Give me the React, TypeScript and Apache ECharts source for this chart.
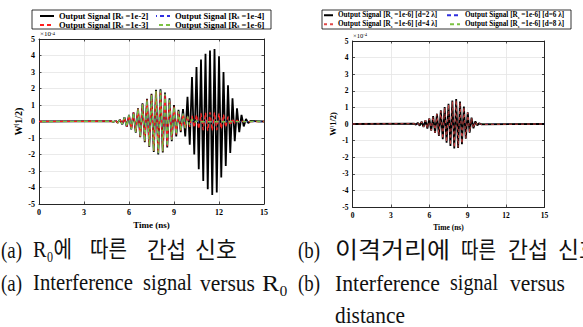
import React, { useEffect, useRef } from 'react';
import * as echarts from 'echarts';

// ---------- data (values in units of 1e-4) ----------
const TIME = [
  4.8, 4.95, 5.1, 5.25, 5.4, 5.55, 5.7, 5.85, 6.0, 6.15,
  6.3, 6.45, 6.6, 6.75, 6.9, 7.05, 7.2, 7.35, 7.5, 7.65,
  7.8, 7.95, 8.1, 8.25, 8.4, 8.55, 8.7, 8.85, 9.0, 9.15,
  9.3, 9.45, 9.6, 9.75, 9.9, 10.05, 10.2, 10.35, 10.5, 10.65,
  10.8, 10.95, 11.1, 11.25, 11.4, 11.55, 11.7, 11.85, 12.0, 12.15,
  12.3, 12.45, 12.6, 12.75, 12.9, 13.05, 13.2, 13.35, 13.5, 13.65,
  13.8, 13.95, 14.1,
];
const T_START = 0;
const T_END = 15;

// (a) Interference signal versus R0
const A_RS_1E2 = [
  0.02, -0.03, 0.05, -0.08, 0.12, -0.18, 0.25, -0.32, 0.40, -0.48,
  0.56, -0.68, 0.80, -0.95, 1.10, -1.25, 1.38, -1.55, 1.68, -1.85,
  1.92, -2.00, 1.96, -1.88, 1.75, -1.58, 1.40, -1.20, 1.00, -0.90,
  0.70, -0.65, 0.75, -0.90, 1.50, -1.40, 2.70, -2.00, 3.30, -2.90,
  3.75, -3.60, 4.10, -4.10, 4.30, -4.45, 4.40, -4.30, 3.95, -3.40,
  3.00, -2.70, 2.20, -1.90, 1.40, -1.20, 0.80, -0.65, 0.40, -0.30,
  0.15, -0.10, 0.03,
];
const A_RS_1E3 = [
  0.02, -0.03, 0.05, -0.08, 0.12, -0.17, 0.24, -0.31, 0.38, -0.46,
  0.54, -0.65, 0.77, -0.92, 1.06, -1.20, 1.33, -1.50, 1.62, -1.78,
  1.85, -1.92, 1.88, -1.80, 1.68, -1.50, 1.32, -1.10, 0.90, -0.78,
  0.62, -0.55, 0.48, -0.42, 0.36, -0.32, 0.34, -0.38, 0.42, -0.46,
  0.49, -0.52, 0.54, -0.56, 0.56, -0.57, 0.55, -0.53, 0.50, -0.46,
  0.42, -0.36, 0.30, -0.24, 0.18, -0.12, 0.08, -0.05, 0.02, -0.01,
];
const A_RS_1E4 = [
  0.02, -0.03, 0.05, -0.08, 0.12, -0.17, 0.24, -0.31, 0.38, -0.46,
  0.54, -0.65, 0.77, -0.92, 1.06, -1.20, 1.33, -1.50, 1.62, -1.78,
  1.85, -1.92, 1.88, -1.80, 1.68, -1.50, 1.32, -1.10, 0.90, -0.78,
  0.62, -0.55, 0.48, -0.40, 0.30, -0.22, 0.14, -0.08, 0.04, -0.02,
];
const A_RS_1E6 = [
  0.02, -0.03, 0.05, -0.08, 0.12, -0.17, 0.24, -0.31, 0.38, -0.46,
  0.54, -0.65, 0.77, -0.92, 1.06, -1.20, 1.33, -1.50, 1.62, -1.78,
  1.85, -1.92, 1.88, -1.80, 1.68, -1.50, 1.32, -1.10, 0.90, -0.78,
  0.62, -0.55, 0.48, -0.40, 0.30, -0.22, 0.14, -0.08, 0.04, -0.02,
];

// (b) Interference signal versus distance
const B_D2 = [
  0.02, -0.04, 0.07, -0.10, 0.14, -0.18, 0.23, -0.28, 0.34, -0.40,
  0.47, -0.54, 0.62, -0.72, 0.82, -0.92, 1.02, -1.12, 1.22, -1.32,
  1.42, -1.48, 1.50, -1.45, 1.35, -1.22, 1.05, -0.88, 0.70, -0.52,
  0.38, -0.26, 0.16, -0.09, 0.05, -0.02,
];
const B_D4 = [
  0.02, -0.04, 0.06, -0.09, 0.13, -0.17, 0.22, -0.27, 0.32, -0.38,
  0.45, -0.52, 0.60, -0.69, 0.79, -0.89, 0.98, -1.08, 1.18, -1.27,
  1.36, -1.42, 1.44, -1.40, 1.30, -1.18, 1.01, -0.85, 0.68, -0.50,
  0.36, -0.25, 0.15, -0.08, 0.04, -0.02,
];
const B_D6 = [0, 0];
const B_D8 = [0, 0];
const FLAT_TIME = [0, 15];

const X_TICKS = { min: 0, max: 15, interval: 3 };
const Y_TICKS = { min: -5, max: 5, interval: 1 };

const NAMES_A = [
  'Output Signal [Rs =1e-2]',
  'Output Signal [Rs =1e-3]',
  'Output Signal [Rs =1e-4]',
  'Output Signal [Rs =1e-6]',
];
const NAMES_B = [
  'Output Signal [Rs =1e-6] [d=2 λ]',
  'Output Signal [Rs =1e-6] [d=4 λ]',
  'Output Signal [Rs =1e-6] [d=6 λ]',
  'Output Signal [Rs =1e-6] [d=8 λ]',
];

const CAPTIONS = [
  { text: '(a)', x: 1, w: 21, y: 250 },
  { text: 'R₀에', x: 33, w: 39, y: 250 },
  { text: '따른', x: 90, w: 37, y: 250 },
  { text: '간섭', x: 147, w: 39, y: 250 },
  { text: '신호', x: 195, w: 42, y: 250 },
  { text: '(b)', x: 298, w: 22, y: 250 },
  { text: '이격거리에', x: 335, w: 115, y: 250 },
  { text: '따른', x: 461, w: 35, y: 250 },
  { text: '간섭', x: 508, w: 40, y: 250 },
  { text: '신호', x: 558, w: 42, y: 250 },
  { text: '(a)', x: 1, w: 21, y: 283 },
  { text: 'Interference', x: 33, w: 100, y: 283 },
  { text: 'signal', x: 143, w: 49, y: 283 },
  { text: 'versus', x: 200, w: 55, y: 283 },
  { text: 'R₀', x: 262, w: 26, y: 283 },
  { text: '(b)', x: 298, w: 22, y: 283 },
  { text: 'Interference', x: 335, w: 105, y: 283 },
  { text: 'signal', x: 450, w: 48, y: 283 },
  { text: 'versus', x: 510, w: 55, y: 283 },
  { text: 'distance', x: 335, w: 70, y: 315 },
];

// ---------- styles ----------
const SERIF = "'Liberation Serif', 'Times New Roman', serif";
const CAP_FAMILY = "'Liberation Serif', 'Noto Sans CJK KR', serif";
const CAP_SIZE = 23;
const AXIS_COLOR = '#262626';
const GRID_COLOR = '#e4e4e4';
const RED = '#ff1f1f';
const RED_B = '#e04848';
const BLUE = '#2f2fe0';
const GREEN = '#7cc242';

function toData(times: number[], vals: number[]) {
  const pts: number[][] = [[T_START, 0]];
  vals.forEach((v, i) => pts.push([times[i], v]));
  pts.push([T_END, 0]);
  return pts;
}

let ctx: CanvasRenderingContext2D | null = null;
function measure(text: string, size: number, family: string) {
  if (!ctx) ctx = document.createElement('canvas').getContext('2d');
  if (!ctx) return text.length * size * 0.5;
  ctx.font = `${size}px ${family}`;
  return ctx.measureText(text).width;
}

function axesFor(grid: number, labelSize: number, nameSize: number, nameGapX: number, nameGapY: number) {
  const line = { show: true, onZero: false, lineStyle: { color: AXIS_COLOR, width: 1 } };
  const tick = { show: true, inside: true, length: 2.5, lineStyle: { color: AXIS_COLOR, width: 0.8 } };
  const label = { fontFamily: SERIF, fontWeight: 'bold' as const, fontSize: labelSize, color: '#000' };
  const nameStyle = { fontFamily: SERIF, fontWeight: 'bold' as const, fontSize: nameSize, color: '#000' };
  const xs = [
    {
      gridIndex: grid, type: 'value', ...X_TICKS, position: 'bottom',
      name: 'Time (ns)', nameLocation: 'middle', nameGap: nameGapX, nameTextStyle: nameStyle,
      axisLine: line, axisTick: tick, axisLabel: { ...label, margin: 4 },
      splitLine: { show: true, lineStyle: { color: GRID_COLOR, width: 0.8 } },
    },
    {
      gridIndex: grid, type: 'value', ...X_TICKS, position: 'top',
      axisLine: line, axisTick: tick, axisLabel: { show: false }, splitLine: { show: false },
    },
  ];
  const ys = [
    {
      gridIndex: grid, type: 'value', ...Y_TICKS, position: 'left',
      name: 'W{p|(}1/2)', nameLocation: 'middle', nameGap: nameGapY, nameRotate: 90,
      nameTextStyle: {
        ...nameStyle, fontSize: nameSize + 1,
        rich: { p: { fontFamily: SERIF, fontWeight: 'bold', fontSize: nameSize * 0.6, lineHeight: nameSize * 0.6, verticalAlign: 'top' } },
      },
      axisLine: line, axisTick: tick, axisLabel: { ...label, margin: 4 },
      splitLine: { show: true, lineStyle: { color: GRID_COLOR, width: 0.8 } },
    },
    {
      gridIndex: grid, type: 'value', ...Y_TICKS, position: 'right',
      axisLine: line, axisTick: tick, axisLabel: { show: false }, splitLine: { show: false },
    },
  ];
  return { xs, ys };
}

function legendItem(name: string, left: number, top: number, itemWidth: number, fontSize: number) {
  return {
    data: [name], left, top, padding: 0, itemWidth, itemHeight: 6, itemGap: 0,
    selectedMode: false,
    itemStyle: { opacity: 0 },
    formatter: (n: string) => n.replace('[Rs', '[R{s|s}'),
    textStyle: {
      fontFamily: SERIF, fontWeight: 'bold', fontSize, color: '#000', lineHeight: 7.5,
      rich: { s: { fontFamily: SERIF, fontWeight: 'bold', fontSize: fontSize * 0.62, lineHeight: 5, verticalAlign: 'bottom' } },
    },
  };
}

function line(name: string, xi: number, yi: number, data: number[][], color: string, width: number, dash: number[] | null, dashOffset = 0, z = 2) {
  return {
    name, type: 'line', xAxisIndex: xi, yAxisIndex: yi, data,
    symbol: 'none', showSymbol: false, clip: true, z,
    itemStyle: { color },
    lineStyle: { color, width, type: dash ? dash : 'solid', dashOffset, cap: 'butt' },
  };
}

export default function App() {
  const ref = useRef<HTMLDivElement>(null);

  useEffect(() => {
    if (!ref.current) return;
    const chart = echarts.init(ref.current, undefined, { renderer: 'svg' });
    const a = axesFor(0, 8, 9, 13, 16);
    const b = axesFor(1, 7.5, 7.5, 11, 15);

    const captionGraphics = CAPTIONS.map((c) => {
      const w = measure(c.text, CAP_SIZE, CAP_FAMILY);
      return {
        type: 'text', x: c.x, y: c.y, scaleX: w > 0 ? c.w / w : 1, z: 10,
        style: { text: c.text, fontSize: CAP_SIZE, fontFamily: CAP_FAMILY, fill: '#111', align: 'left', verticalAlign: 'middle' },
      };
    });

    const DASH = [4, 3];
    const option: any = {
      animation: false,
      backgroundColor: '#fff',
      grid: [
        { left: 39, top: 39, width: 225, height: 165 },
        { left: 352.5, top: 41, width: 192, height: 166 },
      ],
      xAxis: [...a.xs, ...b.xs],
      yAxis: [...a.ys, ...b.ys],
      legend: [
        legendItem(NAMES_A[0], 39, 11.5, 14, 8.5),
        legendItem(NAMES_A[2], 155, 11.5, 14, 8.5),
        legendItem(NAMES_A[1], 39, 20.5, 14, 8.5),
        legendItem(NAMES_A[3], 155, 20.5, 14, 8.5),
        legendItem(NAMES_B[0], 323, 11.5, 9, 7.2),
        legendItem(NAMES_B[2], 446, 11.5, 13, 7.2),
        legendItem(NAMES_B[1], 323, 20.5, 9, 7.2),
        legendItem(NAMES_B[3], 446, 20.5, 13, 7.2),
      ],
      series: [
        line(NAMES_A[0], 0, 0, toData(TIME, A_RS_1E2), '#000', 1.8, null),
        line(NAMES_A[2], 0, 0, toData(TIME, A_RS_1E4), BLUE, 1.3, DASH, 3, 3),
        line(NAMES_A[1], 0, 0, toData(TIME, A_RS_1E3), RED, 1.3, DASH, 0, 4),
        line(NAMES_A[3], 0, 0, toData(TIME, A_RS_1E6), GREEN, 1.4, DASH, 3.8, 5),
        line(NAMES_B[2], 2, 2, toData(FLAT_TIME, B_D6), BLUE, 1.2, DASH, 0, 2),
        line(NAMES_B[3], 2, 2, toData(FLAT_TIME, B_D8), GREEN, 1.2, DASH, 3.5, 2),
        line(NAMES_B[0], 2, 2, toData(TIME, B_D2), '#000', 1.8, null, 0, 3),
        line(NAMES_B[1], 2, 2, toData(TIME, B_D4), RED_B, 0.9, [3, 3], 0, 4),
      ],
      graphic: [
        { type: 'rect', z: 0, shape: { x: 32, y: 10, width: 239, height: 19 }, style: { fill: 'transparent', stroke: '#000', lineWidth: 0.8 } },
        { type: 'rect', z: 0, shape: { x: 322, y: 10, width: 249, height: 19 }, style: { fill: 'transparent', stroke: '#000', lineWidth: 0.8 } },
        {
          type: 'text', x: 40, y: 34, z: 10,
          style: {
            text: '×10{p|-4}', fontSize: 7, fontFamily: SERIF, fill: '#000', verticalAlign: 'middle',
            rich: { p: { fontSize: 5, lineHeight: 5, verticalAlign: 'top', fontFamily: SERIF } },
          },
        },
        {
          type: 'text', x: 353, y: 35.5, z: 10,
          style: {
            text: '×10{p|-4}', fontSize: 6.5, fontFamily: SERIF, fill: '#000', verticalAlign: 'middle',
            rich: { p: { fontSize: 4.5, lineHeight: 4.5, verticalAlign: 'top', fontFamily: SERIF } },
          },
        },
        ...captionGraphics,
      ],
    };
    chart.setOption(option);
    return () => chart.dispose();
  }, []);

  return <div ref={ref} style={{ position: 'absolute', left: 0, top: 0, width: 583, height: 327 }} />;
}
